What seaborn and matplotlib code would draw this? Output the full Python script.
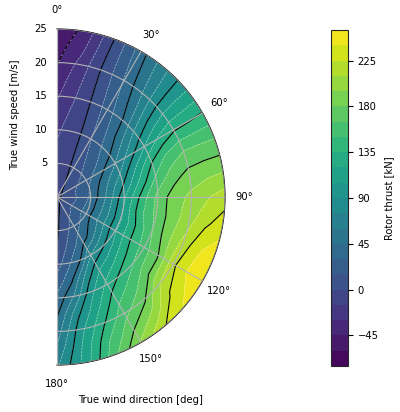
import numpy as np
import matplotlib
matplotlib.use("Agg")
import matplotlib.pyplot as plt
import seaborn as sns

# True wind direction [deg] and true wind speed [m/s] of the thrust table
directions = [0, 10, 20, 30, 40, 50, 60, 70, 80, 90,
              100, 110, 120, 130, 140, 150, 160, 170, 180]
speeds = [0, 2.5, 5, 7.5, 10, 12.5, 15, 17.5, 20, 22.5, 25]

# Rotor thrust [kN], one row per direction, columns follow `speeds`
thrust = [
    [-4, -6, -9, -13, -18, -25, -32, -39, -46, -52, -57],
    [-4, -4, -5, -7, -9, -12, -16, -20, -25, -33, -40],
    [-4, -3, -2, -1.5, -1, 0, 1, 2, 3, 2, 0],
    [-4, 0, 4, 9, 14, 18, 22, 27, 31, 35, 38],
    [-4, 4, 11, 19, 28, 36, 44, 53, 62, 67, 71],
    [-4, 6, 17, 29, 42, 60, 77, 90, 99, 102, 103],
    [-4, 9, 23, 41, 60, 83, 105, 123, 133, 134, 136],
    [-4, 12, 29, 52, 76, 106, 135, 155, 165, 166, 166],
    [-4, 13, 31, 60, 90, 123, 154, 174, 185, 189, 191],
    [-4, 11, 32, 63, 102, 139, 170, 188, 199, 209, 218],
    [-4, 12, 35, 66, 105, 144, 169, 188, 205, 222, 233],
    [-4, 14, 36, 67, 103, 136, 164, 190, 215, 238, 247],
    [-4, 15, 37, 68, 103, 134, 157, 181, 222, 242, 251],
    [-4, 14, 34, 60, 95, 126, 151, 176, 210, 230, 242],
    [-4, 11, 28, 49, 86, 115, 140, 158, 176, 200, 224],
    [-4, 9, 22, 39, 75, 104, 125, 144, 160, 177, 196],
    [-4, 5, 14, 27, 44, 79, 101, 116, 132, 148, 160],
    [-4, 1, 6, 14, 27, 42, 62, 85, 99, 107, 112],
    [-4, -3, -2, 0, 8, 20, 33, 43, 52, 62, 72],
]

fill_levels = np.arange(-75, 256, 15)
line_levels = np.arange(-45, 226, 45)
cbar_ticks = np.arange(-45, 226, 45)

sns.set_style("white")
plt.rcParams.update({
    "font.family": ["DejaVu Sans"],
    "font.size": 7.2,
    "text.color": "black",
    "axes.labelcolor": "black",
    "xtick.color": "black",
    "ytick.color": "black",
    "axes.axisbelow": False,
})

theta = np.deg2rad(directions)
T, R = np.meshgrid(theta, speeds, indexing="ij")
Z = np.array(thrust, dtype=float)

cmap = sns.color_palette("viridis", as_cmap=True)

fig = plt.figure(figsize=(4.0, 4.12), dpi=100)
# square box: the half disc (radius 168 px) sits in its right half
ax = fig.add_axes([-27 / 400, 47 / 412, 336 / 400, 336 / 412], projection="polar")
ax.set_theta_zero_location("N")
ax.set_theta_direction(-1)
ax.set_thetamin(0)
ax.set_thetamax(180)

cf = ax.contourf(T, R, Z, levels=fill_levels, cmap=cmap, zorder=0)
ax.contour(T, R, Z, levels=fill_levels, colors="white", linewidths=0.45,
           linestyles="--", alpha=0.6, zorder=1)
ax.contour(T, R, Z, levels=line_levels, colors="black", linewidths=0.8,
           zorder=2)

ax.set_rmax(25)
ax.set_rticks([5, 10, 15, 20, 25])
ax.set_xticks(np.deg2rad(np.arange(0, 181, 30)))
ax.grid(True, color="#b4b4b4", linewidth=0.8, zorder=3)
ax.spines["polar"].set_color("black")
for side in ("start", "end"):
    ax.spines[side].set_color("#8c8c8c")
ax.tick_params(labelsize=7.2)

ax.set_xlabel("True wind direction [deg]", fontsize=7.2)
ax.set_ylabel("True wind speed [m/s]", fontsize=7.2)
ax.yaxis.set_label_coords(0.14, 0.745)

cax = fig.add_axes([331 / 400, 46 / 412, 17 / 400, 336 / 412])
cb = fig.colorbar(cf, cax=cax, ticks=cbar_ticks)
cb.set_label("Rotor thrust [kN]", fontsize=7.2)
cb.ax.tick_params(labelsize=7.2, right=True, length=3.5, width=0.8,
                  color="black")
cb.outline.set_linewidth(0.8)

fig.savefig("out.png", dpi=100)
